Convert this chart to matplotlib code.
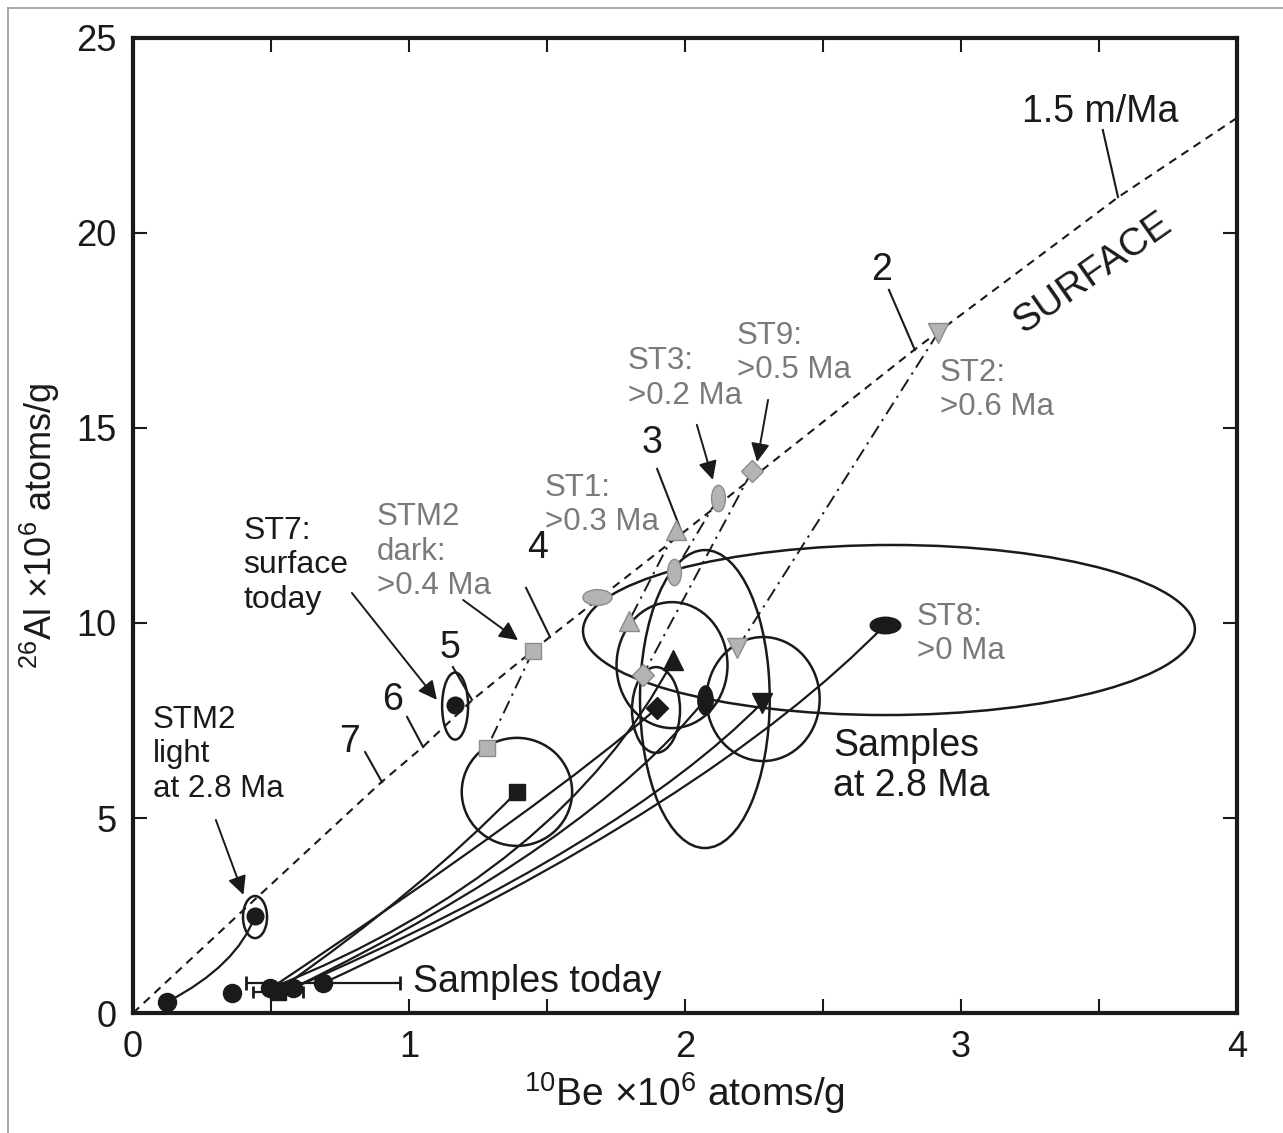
import numpy as np
import matplotlib as mpl
mpl.use("Agg")
import matplotlib.pyplot as plt
from matplotlib.patches import Ellipse, PathPatch
from matplotlib.path import Path
from matplotlib.markers import MarkerStyle
from matplotlib.transforms import Affine2D

plt.rcParams['font.family'] = ['Liberation Sans', 'DejaVu Sans']
plt.rcParams['mathtext.fontset'] = 'custom'
plt.rcParams['mathtext.rm'] = 'Liberation Sans'
plt.rcParams['mathtext.it'] = 'Liberation Sans'

#  Steady erosion (surface) line
surf_be = [0.0, 0.40, 0.90, 1.05, 1.23, 1.51, 1.99, 2.83, 3.57, 4.0]
surf_al = [0.0, 2.64, 5.92, 6.82, 8.03, 9.64, 12.30, 17.0, 20.92, 22.95]

#  Erosion-rate ticks on the surface line: label, label pos, tick start, tick end
rate_labels = ['2', '3', '4', '5', '6', '7', '1.5 m/Ma']
rate_text = [(2.714, 19.05), (1.880, 14.62), (1.467, 11.92), (1.149, 9.36),
             (0.942, 8.03), (0.786, 6.95), (3.504, 23.1)]
rate_from = [(2.739, 18.54), (1.899, 13.95), (1.424, 10.90), (1.159, 8.87),
             (0.993, 7.59), (0.841, 6.69), (3.514, 22.64)]
rate_to = [(2.833, 17.0), (1.989, 12.31), (1.511, 9.64), (1.228, 8.03),
           (1.051, 6.82), (0.902, 5.92), (3.569, 20.92)]

#  Gray points: on the surface line (top) and the buried equivalent (bottom)
gray_names = ['ST2', 'ST9', 'ST3', 'ST1', 'STM2 dark']
gray_top_be = [2.917, 2.243, 2.120, 1.967, 1.449]
gray_top_al = [17.44, 13.90, 13.20, 12.38, 9.28]
gray_bot_be = [2.190, 1.848, 1.960, 1.797, 1.283]
gray_bot_al = [9.36, 8.67, 11.30, 10.05, 6.80]
gray_marks = ['v', 'D', 'vell', '^', 's']
st8_gray = (1.68, 10.67)

#  Samples at 2.8 Ma (black) with their uncertainty ellipses (width, height)
s28_be = [1.391, 1.899, 1.957, 2.072, 2.279, 2.725]
s28_al = [5.67, 7.82, 9.05, 8.03, 7.95, 9.95]
s28_marks = ['s', 'D', '^', 'vell', 'v', 'hell']
ell_cx = [1.391, 1.895, 1.953, 2.072, 2.283, 2.739]
ell_cy = [5.67, 7.77, 8.92, 8.05, 8.05, 9.82]
ell_w = [0.40, 0.174, 0.402, 0.47, 0.41, 2.217]
ell_h = [2.77, 2.20, 3.23, 7.64, 3.18, 4.36]
ell_ang = [0, 0, 0, 0, 0, -0.4]

#  Samples today (bottom) and the curve back to 2.8 Ma
today_be = [0.525, 0.50, 0.50, 0.58, 0.58, 0.69]
today_al = [0.58, 0.64, 0.64, 0.64, 0.64, 0.77]
mid_be = [1.00, 1.36, 1.39, 1.49, 1.60, 1.90]
mid_al = [3.13, 4.85, 4.23, 4.34, 4.30, 5.36]

#  Extra single points
today_pts_be = [0.123, 0.357, 0.496, 0.58, 0.688]
today_pts_al = [0.28, 0.51, 0.64, 0.64, 0.77]
stm2l_today = (0.123, 0.28)
stm2l_28 = (0.442, 2.49)
stm2l_mid = (0.33, 1.30)
stm2l_ell = (0.442, 2.46, 0.087, 1.08)
st7 = (1.167, 7.90)
st7_ell = (1.167, 7.87, 0.094, 1.72)
err_be = 0.688
err_al = 0.77
err_x = 0.28

BLACK = '#1a1a1a'
GFILL = '#b4b4b4'
GEDGE = '#8c8c8c'
GTEXT = '#7a7a7a'


def marker(code):
	if code == 'vell':
		return MarkerStyle(Path.unit_circle().transformed(Affine2D().scale(1, 1.9)))
	if code == 'hell':
		return MarkerStyle(Path.unit_circle().transformed(Affine2D().scale(1.85, 1)))
	return code


def msize(code):
	return {'s': 11, 'D': 11, '^': 15, 'v': 15, 'vell': 21, 'hell': 22, 'o': 12}[code]


def curve(ax, p0, pm, p2):
	#  quadratic path through the mid point
	c = (2 * pm[0] - 0.5 * (p0[0] + p2[0]), 2 * pm[1] - 0.5 * (p0[1] + p2[1]))
	path = Path([p0, c, p2], [Path.MOVETO, Path.CURVE3, Path.CURVE3])
	ax.add_patch(PathPatch(path, fc='none', ec=BLACK, lw=1.6, zorder=3))


fig = plt.figure(figsize=(12.83, 11.33), dpi=100)
ax = fig.add_axes([0.1037, 0.1059, 0.8604, 0.8606])

#  outer frame of the figure
fig.add_artist(plt.Line2D([8 / 1283, 1], [1 - 8 / 1133, 1 - 8 / 1133], color='#999999', lw=1.2))
fig.add_artist(plt.Line2D([8 / 1283, 8 / 1283], [0, 1 - 8 / 1133], color='#999999', lw=1.2))

ax.plot(surf_be, surf_al, ls=(0, (4, 3)), color=BLACK, lw=1.5, zorder=2)
for lab, t, a, b in zip(rate_labels, rate_text, rate_from, rate_to):
	ax.plot([a[0], b[0]], [a[1], b[1]], color=BLACK, lw=1.5)
	ax.text(t[0], t[1], lab, fontsize=27, ha='center', va='center', color=BLACK)

ax.text(3.478, 18.98, 'SURFACE', fontsize=28, rotation=35, ha='center', va='center', color=BLACK)

#  burial lines between gray pairs
for i in range(len(gray_names)):
	ax.plot([gray_top_be[i], gray_bot_be[i]], [gray_top_al[i], gray_bot_al[i]],
		ls=(0, (7, 3, 1.2, 3)), color=BLACK, lw=1.4, zorder=2)

#  uncertainty ellipses
for cx, cy, w, h, a in zip(ell_cx, ell_cy, ell_w, ell_h, ell_ang):
	ax.add_patch(Ellipse((cx, cy), w, h, angle=a, fc='none', ec=BLACK, lw=1.8, zorder=3))
for e in [stm2l_ell, st7_ell]:
	ax.add_patch(Ellipse((e[0], e[1]), e[2], e[3], fc='none', ec=BLACK, lw=1.8, zorder=3))

#  curves from today to 2.8 Ma
for i in range(len(s28_be)):
	curve(ax, (today_be[i], today_al[i]), (mid_be[i], mid_al[i]), (s28_be[i], s28_al[i]))
curve(ax, stm2l_today, stm2l_mid, stm2l_28)

#  gray markers
for i in range(len(gray_names)):
	for x, y in [(gray_top_be[i], gray_top_al[i]), (gray_bot_be[i], gray_bot_al[i])]:
		ms = msize(gray_marks[i]) - (2 if gray_marks[i] == 'vell' else 0)
		ax.plot(x, y, marker=marker(gray_marks[i]), ms=ms,
			mfc=GFILL, mec=GEDGE, mew=1, ls='none', zorder=5)
ax.plot(st8_gray[0], st8_gray[1], marker=marker('hell'), ms=21, mfc=GFILL, mec=GEDGE,
	mew=1, ls='none', zorder=5)

#  black markers
for x, y, m in zip(s28_be, s28_al, s28_marks):
	ax.plot(x, y, marker=marker(m), ms=msize(m), color=BLACK, ls='none', zorder=6)
ax.plot(st7[0], st7[1], 'o', ms=12, color=BLACK, zorder=6)
ax.plot(stm2l_28[0], stm2l_28[1], 'o', ms=12, color=BLACK, zorder=6)

#  samples today
ax.errorbar(err_be, err_al, xerr=err_x, fmt='none', ecolor=BLACK, elinewidth=1.6,
	capsize=5, capthick=2, zorder=5)
ax.errorbar(0.525, 0.55, xerr=0.09, fmt='none', ecolor=BLACK, elinewidth=1.6,
	capsize=4, capthick=2, zorder=5)
ax.plot(today_pts_be, today_pts_al, 'o', ms=13, color=BLACK, ls='none', zorder=6)
ax.plot(0.525, 0.55, 's', ms=12, color=BLACK, zorder=6)
ax.text(1.014, 0.79, 'Samples today', fontsize=27, ha='left', va='center', color=BLACK)

#  labels with arrows
arrow = dict(arrowstyle='-|>', color=BLACK, lw=1.4, mutation_scale=28, shrinkA=0, shrinkB=0)
LS = 1.2
ax.text(0.072, 7.9, 'STM2\nlight\nat 2.8 Ma', fontsize=22.5, ha='left', va='top',
	color=BLACK, linespacing=LS)
ax.annotate('', xy=(0.40, 3.03), xytext=(0.30, 4.95), arrowprops=arrow)
ax.text(0.399, 12.75, 'ST7:\nsurface\ntoday', fontsize=23, ha='left', va='top',
	color=BLACK, linespacing=LS)
ax.annotate('', xy=(1.101, 8.03), xytext=(0.793, 10.77), arrowprops=arrow)
ax.text(0.884, 13.1, 'STM2\ndark:\n>0.4 Ma', fontsize=22.5, ha='left', va='top',
	color=GTEXT, linespacing=LS)
ax.annotate('', xy=(1.395, 9.56), xytext=(1.196, 10.59), arrowprops=arrow)
ax.text(1.493, 13.85, 'ST1:\n>0.3 Ma', fontsize=22.5, ha='left', va='top',
	color=GTEXT, linespacing=LS)
ax.text(1.793, 17.1, 'ST3:\n>0.2 Ma', fontsize=22.5, ha='left', va='top',
	color=GTEXT, linespacing=LS)
ax.annotate('', xy=(2.101, 13.67), xytext=(2.043, 15.08), arrowprops=arrow)
ax.text(2.188, 17.75, 'ST9:\n>0.5 Ma', fontsize=22.5, ha='left', va='top',
	color=GTEXT, linespacing=LS)
ax.annotate('', xy=(2.261, 14.13), xytext=(2.301, 15.72), arrowprops=arrow)
ax.text(2.924, 16.8, 'ST2:\n>0.6 Ma', fontsize=22.5, ha='left', va='top',
	color=GTEXT, linespacing=LS)
ax.text(2.841, 10.55, 'ST8:\n>0 Ma', fontsize=22.5, ha='left', va='top',
	color=GTEXT, linespacing=LS)
ax.text(2.536, 7.3, 'Samples\nat 2.8 Ma', fontsize=27, ha='left', va='top',
	color=BLACK, linespacing=1.12)

ax.set_xlim(0, 4)
ax.set_ylim(0, 25)
ax.set_xticks(np.arange(0, 4.01, 0.5))
ax.set_xticklabels(['0', '', '1', '', '2', '', '3', '', '4'])
ax.set_yticks([0, 5, 10, 15, 20, 25])
ax.tick_params(direction='in', length=10, width=1.5, labelsize=26, top=True, right=True,
	colors=BLACK, pad=12)
for s in ax.spines.values():
	s.set_linewidth(3)
	s.set_color(BLACK)

ax.set_xlabel(r'$^{10}$Be $\times$10$^{6}$ atoms/g', fontsize=28, color=BLACK, labelpad=4)
ax.set_ylabel(r'$^{26}$Al $\times$10$^{6}$ atoms/g', fontsize=26, color=BLACK, labelpad=10)

fig.savefig('out.png', dpi=100)
